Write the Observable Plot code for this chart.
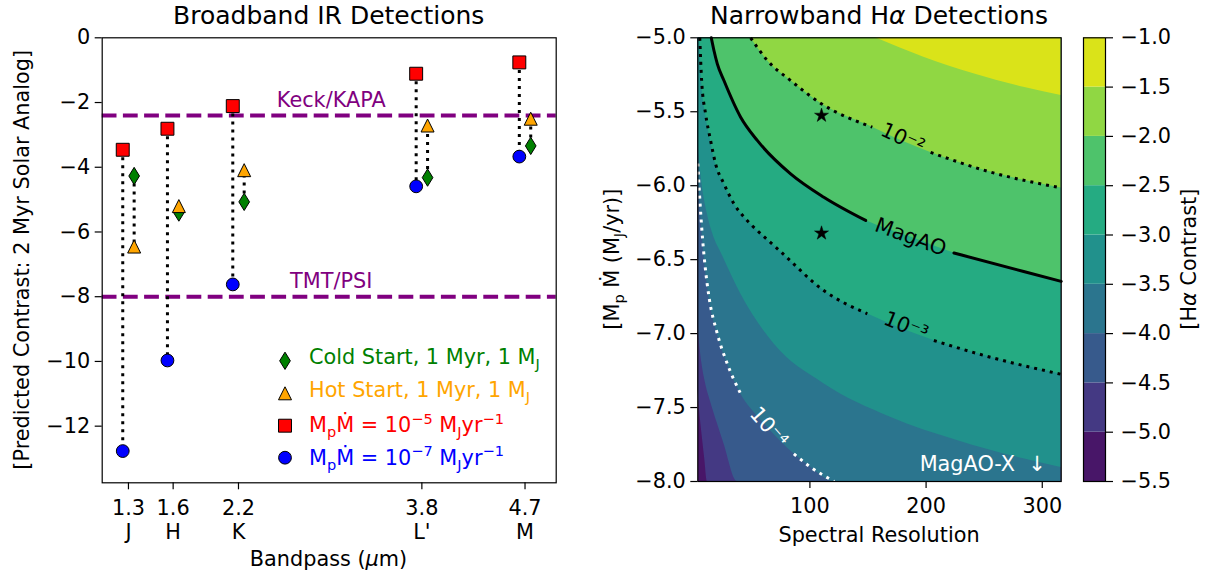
<!DOCTYPE html>
<html>
<head>
<meta charset="utf-8">
<script src="https://cdn.jsdelivr.net/npm/d3@7"></script>
<script src="https://cdn.jsdelivr.net/npm/@observablehq/plot@0.6"></script>
<style>
  html, body { margin: 0; padding: 0; background: #ffffff; }
  #fig { position: relative; width: 1208px; height: 581px; overflow: hidden; background: #ffffff; }
  #fig > svg { position: absolute; top: 0; }
  text { white-space: pre; }
</style>
</head>
<body>
<div id="fig"></div>
<script>
// ---------------- Left panel data ----------------
const bandNames      = ["J", "H", "K", "L'", "M"];
const bandCenters    = [1.24, 1.63, 2.2, 3.8, 4.7];
const bandTickLabels = ["1.3", "1.6", "2.2", "3.8", "4.7"];
const coldStart      = [-4.27, -5.40, -5.07, -4.32, -3.34];
const hotStart       = [-6.45, -5.20, -4.09, -2.71, -2.50];
const accretionHigh  = [-3.46, -2.81, -2.11, -1.11, -0.76];
const accretionLow   = [-12.77, -9.97, -7.62, -4.59, -3.67];
const instrumentNames  = ["Keck/KAPA", "TMT/PSI"];
const instrumentLimits = [-2.4, -8.0];
const leftYTicks = [0, -2, -4, -6, -8, -10, -12];

// ---------------- Right panel data ----------------
const resolutionTicks = [100, 200, 300];
const accretionTicks  = [-5.0, -5.5, -6.0, -6.5, -7.0, -7.5, -8.0];
const contrastLevels  = [-5.5, -5.0, -4.5, -4.0, -3.5, -3.0, -2.5, -2.0, -1.5, -1.0];
// contour boundaries: [spectral resolution, log MpMdot]
const contourM50 = [[3.5, -7.38], [5, -7.52], [7.4, -7.70], [9.5, -7.85], [11.7, -8.0]];
const contourM45 = [[3.5, -6.95], [7, -7.2], [10, -7.33], [14.5, -7.46], [20, -7.6], [26, -7.745], [37.5, -8.0]];
const contourM40 = [[3.5, -5.85], [5.3, -6.1], [7.6, -6.36], [10, -6.56], [13.1, -6.75], [20.3, -7.001], [28.9, -7.204], [40.4, -7.407], [55, -7.56], [64.7, -7.645], [86.2, -7.813], [100.6, -7.903], [121, -8.0]];
const contourM35 = [[3.5, -5.70], [7, -5.98], [11.7, -6.19], [17, -6.34], [24, -6.46], [40.4, -6.731], [69, -7.069], [112, -7.339], [169.4, -7.565], [226.8, -7.723], [284, -7.847], [316.3, -7.905]];
const contourM30 = [[5.2, -5.0], [6.8, -5.289], [10.2, -5.514], [14.5, -5.694], [18.8, -5.852], [26, -5.987], [34.6, -6.122], [44.7, -6.225], [54.7, -6.303], [66.2, -6.385], [74, -6.44], [112, -6.709], [149.4, -6.866], [206.7, -7.047], [255.5, -7.160], [316.3, -7.275]];
const contourM25 = [[15.1, -5.0], [17.4, -5.086], [20.3, -5.176], [26, -5.289], [40.4, -5.537], [54.7, -5.694], [83.4, -5.920], [112, -6.078], [148, -6.235], [186.7, -6.347], [224, -6.455], [284, -6.58], [316.3, -6.647]];
const contourM20 = [[49, -5.0], [63.3, -5.153], [83.4, -5.289], [109.2, -5.442], [153.7, -5.604], [180, -5.70], [203.9, -5.775], [255.5, -5.908], [316.3, -6.015]];
const contourM15 = [[156.5, -5.0], [198, -5.131], [241, -5.243], [284, -5.334], [316.3, -5.39]];
// label gaps (resolution range without line) for drawn contour lines
const gapM20 = [153.7, 203.9];
const gapM25 = [148, 224];
const gapM30 = [149.4, 206.7];
const gapM40 = [40.4, 86.2];
const contourLabelText  = ["10⁻²", "MagAO", "10⁻³", "10⁻⁴"];
const contourLabelR     = [180, 186.7, 182.6, 64.7];
const contourLabelY     = [-5.68, -6.347, -6.95, -7.633];
const contourLabelAngle = [24.7, 20.2, 21.9, 48.4];
const starR = [110, 110];
const starY = [-5.525, -6.321];
const legendLabels = [
  [["Cold Start, 1 Myr, 1 M", ""], ["J", "sub"]],
  [["Hot Start, 1 Myr, 1 M", ""], ["J", "sub"]],
  [["M", ""], ["p", "sub"], ["Ṁ", ""], [" = 10", ""], ["−5", "sup"], [" M", ""], ["J", "sub"], ["yr", ""], ["−1", "sup"]],
  [["M", ""], ["p", "sub"], ["Ṁ", ""], [" = 10", ""], ["−7", "sup"], [" M", ""], ["J", "sub"], ["yr", ""], ["−1", "sup"]]
];

// ---------------- styles ----------------
const FONT = "DejaVu Sans";
const FS = 20.8;
const R_MIN = 3.5, R_MAX = 316.3, Y_LO = -8, Y_HI = -5;
const baseStyle = {fontFamily: FONT, fontSize: FS + "px", background: "transparent", overflow: "visible"};

// matplotlib-like marker shapes
const mplTriangle = {draw(ctx, size) { const s = Math.sqrt(size / Math.PI); ctx.moveTo(0, -s); ctx.lineTo(s, s); ctx.lineTo(-s, s); ctx.closePath(); }};
const mplThinDiamond = {draw(ctx, size) { const s = Math.sqrt(size / Math.PI); ctx.moveTo(0, -1.33 * s); ctx.lineTo(0.82 * s, 0); ctx.lineTo(0, 1.33 * s); ctx.lineTo(-0.82 * s, 0); ctx.closePath(); }};

const table = bandNames.map((b, i) => ({band: b, wl: bandCenters[i], tick: bandTickLabels[i], cold: coldStart[i], hot: hotStart[i], high: accretionHigh[i], low: accretionLow[i]}));
const instruments = instrumentNames.map((n, i) => ({name: n, level: instrumentLimits[i]}));
const DX = 5.7;
const dotted = {stroke: "black", strokeWidth: 3, strokeDasharray: "3 5", strokeLinecap: "butt"};

const fig = document.getElementById("fig");

// ---------------- Left panel ----------------
const left = Plot.plot({
  width: 600, height: 581,
  marginLeft: 101.7, marginRight: 44.3, marginTop: 37.3, marginBottom: 98.7,
  style: baseStyle,
  x: {domain: [1.011, 4.972]},
  y: {domain: [-13.75, 0]},
  marks: [
    Plot.ruleY(instruments, {y: "level", stroke: "purple", strokeWidth: 4, strokeDasharray: "14.8 6.4"}),
    Plot.text(instruments, {y: "level", text: "name", fill: "purple", dx: 2, dy: -15, fontSize: FS}),
    Plot.ruleX(table, {x: "wl", y1: "high", y2: "low", dx: -DX, ...dotted}),
    Plot.ruleX(table, {x: "wl", y1: "cold", y2: "hot", dx: DX, ...dotted}),
    Plot.dot(table, {x: "wl", y: "cold", dx: DX, symbol: mplThinDiamond, r: 6.5, fill: "green", stroke: "black", strokeWidth: 1}),
    Plot.dot(table, {x: "wl", y: "hot", dx: DX, symbol: mplTriangle, r: 6.5, fill: "orange", stroke: "black", strokeWidth: 1}),
    Plot.dot(table, {x: "wl", y: "high", dx: -DX, symbol: "square", r: 7.3, fill: "red", stroke: "black", strokeWidth: 1}),
    Plot.dot(table, {x: "wl", y: "low", dx: -DX, symbol: "circle", r: 6.4, fill: "blue", stroke: "black", strokeWidth: 1}),
    Plot.axisY({ticks: leftYTicks, tickFormat: d3.format("d"), tickSize: 7, tickPadding: 5, label: null, strokeWidth: 1.2}),
    Plot.axisX({ticks: bandCenters, tickFormat: d => bandTickLabels[bandCenters.indexOf(d)], tickSize: 7, tickPadding: 10, label: null, strokeWidth: 1.2}),
    Plot.text(table, {x: "wl", text: "band", frameAnchor: "bottom", lineAnchor: "middle", dy: 49.4, fontSize: FS}),
    Plot.frame({stroke: "black", strokeWidth: 1.2})
  ]
});
left.style.left = "0px";
fig.appendChild(left);

// ---------------- Right panel ----------------
const nBands = contrastLevels.length - 1;
const bandColors = d3.range(nBands).map(i => d3.interpolateViridis((i + 0.5) / nBands));
const boundaries = [
  {level: -5.0, pts: contourM50}, {level: -4.5, pts: contourM45}, {level: -4.0, pts: contourM40},
  {level: -3.5, pts: contourM35}, {level: -3.0, pts: contourM30}, {level: -2.5, pts: contourM25},
  {level: -2.0, pts: contourM20}, {level: -1.5, pts: contourM15}
];
const areaMarks = boundaries.map(b => {
  const i = contrastLevels.indexOf(b.level);
  const pts = b.pts[b.pts.length - 1][1] <= Y_LO ? [...b.pts, [R_MAX, Y_LO]] : b.pts;
  return Plot.areaY(pts, {x: d => d[0], y1: d => d[1], y2: () => Y_HI, fill: bandColors[i], curve: "monotone-x", clip: true});
});
function lineSegments(pts, gap) {
  return pts.map(p => ({R: p[0], y: p[1], seg: p[0] <= gap[0] ? 0 : (p[0] >= gap[1] ? 1 : -1)})).filter(d => d.seg >= 0);
}
const contourLabels = contourLabelText.map((t, i) => ({text: t, R: contourLabelR[i], y: contourLabelY[i], angle: contourLabelAngle[i]}));
const stars = starR.map((r, i) => ({R: r, y: starY[i]}));

const right = Plot.plot({
  width: 480, height: 581,
  marginLeft: 97.3, marginRight: 19.3, marginTop: 37.3, marginBottom: 100,
  style: baseStyle,
  x: {domain: [R_MIN, R_MAX]},
  y: {domain: [Y_LO, Y_HI]},
  marks: [
    Plot.frame({fill: bandColors[0], stroke: "none"}),
    ...areaMarks,
    Plot.line(lineSegments(contourM20, gapM20), {x: "R", y: "y", z: "seg", curve: "monotone-x", ...dotted}),
    Plot.line(lineSegments(contourM25, gapM25), {x: "R", y: "y", z: "seg", curve: "monotone-x", stroke: "black", strokeWidth: 3}),
    Plot.line(lineSegments(contourM30, gapM30), {x: "R", y: "y", z: "seg", curve: "monotone-x", ...dotted}),
    Plot.line(lineSegments(contourM40, gapM40), {x: "R", y: "y", z: "seg", curve: "monotone-x", ...dotted, stroke: "white"}),
    Plot.text(contourLabels.slice(0, 3), {x: "R", y: "y", text: "text", rotate: "angle", fill: "black", fontSize: FS}),
    Plot.text(contourLabels.slice(3), {x: "R", y: "y", text: "text", rotate: "angle", fill: "white", fontSize: FS}),
    Plot.dot(stars, {x: "R", y: "y", symbol: "star", r: 4.4, fill: "black", stroke: "black", strokeWidth: 0.5}),
    Plot.text(["MagAO-X\u00a0\u00a0↓"], {frameAnchor: "bottom-right", textAnchor: "end", lineAnchor: "middle", dx: -15.5, dy: -17.5, fill: "white", fontSize: FS}),
    Plot.axisY({ticks: accretionTicks, tickFormat: d3.format(".1f"), tickSize: 7, tickPadding: 5, label: null, strokeWidth: 1.2}),
    Plot.axisX({ticks: resolutionTicks, tickSize: 7, tickPadding: 10, label: null, strokeWidth: 1.2}),
    Plot.frame({stroke: "black", strokeWidth: 1.2})
  ]
});
right.style.left = "600px";
fig.appendChild(right);

// ---------------- Colorbar ----------------
const cbBands = d3.range(nBands).map(i => ({lo: contrastLevels[i], hi: contrastLevels[i + 1], color: bandColors[i]}));
const cbar = Plot.plot({
  width: 133, height: 581,
  marginLeft: 8, marginRight: 103, marginTop: 37.3, marginBottom: 100,
  style: baseStyle,
  x: {domain: [0, 1], axis: null},
  y: {domain: [contrastLevels[0], contrastLevels[contrastLevels.length - 1]]},
  color: {type: "identity"},
  marks: [
    Plot.rect(cbBands, {x1: () => 0, x2: () => 1, y1: "lo", y2: "hi", fill: "color"}),
    Plot.axisY({anchor: "right", ticks: contrastLevels, tickFormat: d3.format(".1f"), tickSize: 7, tickPadding: 8, label: null, strokeWidth: 1.2}),
    Plot.frame({stroke: "black", strokeWidth: 1.2})
  ]
});
cbar.style.left = "1075px";
fig.appendChild(cbar);

// ---------------- Overlay: titles, axis labels with math, legend ----------------
const ov = d3.select(fig).append("svg")
  .attr("width", 1208).attr("height", 581)
  .style("left", "0px").style("pointer-events", "none")
  .attr("font-family", FONT);

function rich(x, y, parts, {anchor = "middle", rotate = 0, size = FS, fill = "#000"} = {}) {
  const t = ov.append("text")
    .attr("transform", `translate(${x},${y}) rotate(${rotate})`)
    .attr("y", 0.3645 * size)
    .attr("text-anchor", anchor).attr("font-size", size).attr("fill", fill);
  let shift = 0;
  for (const [s, k] of parts) {
    const target = k === "sub" ? 0.24 * size : (k === "sup" ? -0.4 * size : 0);
    const ts = t.append("tspan").text(s);
    if (target - shift !== 0) ts.attr("dy", target - shift);
    shift = target;
    if (k === "sub" || k === "sup") ts.attr("font-size", size * 0.7);
    if (k === "i") ts.attr("font-style", "italic");
  }
  return t;
}

rich(328.7, 15.3, [["Broadband IR Detections", ""]], {size: 25});
rich(879, 15.3, [["Narrowband H", ""], ["α", "i"], [" Detections", ""]], {size: 25});
rich(328.5, 558.5, [["Bandpass (", ""], ["μ", "i"], ["m)", ""]]);
rich(879, 534.6, [["Spectral Resolution", ""]]);
rich(21, 259.8, [["[Predicted Contrast: 2 Myr Solar Analog]", ""]], {rotate: -90});
rich(611, 259.2, [["[M", ""], ["p", "sub"], [" Ṁ (M", ""], ["J", "sub"], ["/yr)]", ""]], {rotate: -90});
rich(1188, 259.2, [["[H", ""], ["α", "i"], [" Contrast]", ""]], {rotate: -90});

// legend (inside left panel, lower right)
const legendSymbols = [mplThinDiamond, mplTriangle, d3.symbolSquare, d3.symbolCircle];
const legendR = [6.5, 6.5, 7.3, 6.4];
const legendFill = ["green", "orange", "red", "blue"];
const legendTextColor = ["green", "orange", "red", "blue"];
const rowY = [360.8, 393.3, 425.7, 457.7];
const textY = [356.7, 389.2, 424.5, 457.2];
legendLabels.forEach((parts, i) => {
  ov.append("path")
    .attr("d", d3.symbol().type(legendSymbols[i]).size(Math.PI * legendR[i] * legendR[i])())
    .attr("transform", `translate(285,${rowY[i]})`)
    .attr("fill", legendFill[i]).attr("stroke", "black").attr("stroke-width", 1);
  rich(309, textY[i], parts, {anchor: "start", fill: legendTextColor[i]});
});
</script>
</body>
</html>
